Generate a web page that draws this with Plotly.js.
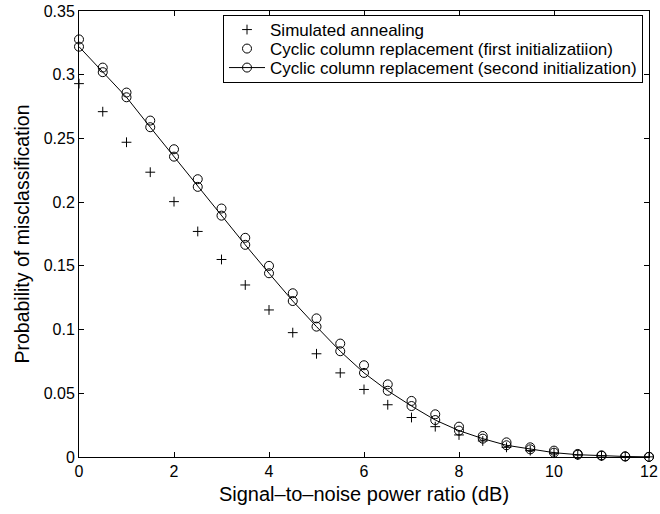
<!DOCTYPE html>
<html>
<head>
<meta charset="utf-8">
<script src="https://cdn.plot.ly/plotly-3.0.1.min.js"></script>
<style>html,body{margin:0;padding:0;background:#fff;}#chart{width:660px;height:514px;}</style>
</head>
<body>
<div id="chart"></div>
<script>
const snr = [0,0.5,1,1.5,2,2.5,3,3.5,4,4.5,5,5.5,6,6.5,7,7.5,8,8.5,9,9.5,10,10.5,11,11.5,12];
const simulatedAnnealing = [0.293,0.271,0.247,0.2235,0.2004,0.177,0.155,0.135,0.1154,0.0976,0.081,0.066,0.053,0.041,0.031,0.0238,0.0173,0.0126,0.0076,0.005,0.003,0.0015,0.0008,0.0004,0.0001];
const firstInit = [0.3277,0.3056,0.286,0.264,0.2415,0.218,0.195,0.172,0.150,0.1285,0.1088,0.089,0.072,0.057,0.044,0.0335,0.0238,0.0165,0.0115,0.0076,0.005,0.0024,0.0013,0.0005,0.0001];
const secondInit = [0.322,0.302,0.2823,0.2588,0.2357,0.212,0.1894,0.1665,0.1442,0.1224,0.1023,0.083,0.066,0.052,0.040,0.029,0.0207,0.0144,0.0092,0.006,0.0034,0.0018,0.001,0.0004,0.0001];
const names = ["Simulated annealing","Cyclic column replacement (first initializatiion)","Cyclic column replacement (second initialization)"];

const font = {family: "'Liberation Sans', Arial, Helvetica, sans-serif", color: "#000"};
const traces = [
  {x: snr, y: simulatedAnnealing, name: names[0], type: "scatter", mode: "markers", cliponaxis: false,
   marker: {symbol: "cross-thin-open", size: 7, color: "#000", line: {color: "#000", width: 1}}},
  {x: snr, y: firstInit, name: names[1], type: "scatter", mode: "markers", cliponaxis: false,
   marker: {symbol: "circle-open", size: 9, color: "#000", line: {color: "#000", width: 1}}},
  {x: snr, y: secondInit, name: names[2], type: "scatter", mode: "lines+markers", cliponaxis: false,
   line: {color: "#000", width: 1},
   marker: {symbol: "circle-open", size: 9, color: "#000", line: {color: "#000", width: 1}}}
];
const axisCommon = {showgrid: false, zeroline: false, showline: true, linecolor: "#000", linewidth: 1,
  mirror: "ticks", ticks: "inside", ticklen: 5, tickcolor: "#000", tickwidth: 1,
  tickfont: Object.assign({size: 16}, font)};
const layout = {
  width: 660, height: 514,
  margin: {l: 79, r: 11, t: 11, b: 57},
  paper_bgcolor: "#fff", plot_bgcolor: "#fff",
  font: font,
  showlegend: true,
  legend: {x: 0.9895, y: 0.991, xanchor: "right", yanchor: "top", bgcolor: "#fff",
    bordercolor: "#000", borderwidth: 1, font: Object.assign({size: 17}, font),
    tracegroupgap: 0, itemwidth: 36},
  xaxis: Object.assign({range: [0, 12], dtick: 2, tick0: 0,
    title: {text: "Signal\u2013to\u2013noise power ratio (dB)", font: Object.assign({size: 20}, font), standoff: 7}}, axisCommon),
  yaxis: Object.assign({range: [0, 0.35], dtick: 0.05, tick0: 0,
    title: {text: "Probability of misclassification", font: Object.assign({size: 19.5}, font), standoff: 8}}, axisCommon)
};
Plotly.newPlot("chart", traces, layout, {displayModeBar: false, staticPlot: true}).then(function (gd) {
  // tighten legend row spacing to match the reference
  const legend = gd.querySelector(".legend");
  if (!legend) return;
  const items = Array.from(legend.querySelectorAll(".traces"));
  const pos = items.map(function (el) {
    const m = /translate\(\s*([-\d.e]+)[ ,]+([-\d.e]+)\s*\)/.exec(el.getAttribute("transform") || "");
    return m ? [parseFloat(m[1]), parseFloat(m[2])] : [0, 0];
  });
  if (items.length < 2) return;
  const oldSpacing = pos[1][1] - pos[0][1];
  const spacing = 19, shift = -4;
  items.forEach(function (el, i) {
    el.setAttribute("transform", "translate(" + pos[i][0] + "," + (pos[0][1] + shift + i * spacing) + ")");
  });
  const bg = legend.querySelector("rect.bg");
  if (bg) {
    const h = parseFloat(bg.getAttribute("height"));
    bg.setAttribute("height", h - (items.length - 1) * (oldSpacing - spacing) - 8);
  }
});
</script>
</body>
</html>
